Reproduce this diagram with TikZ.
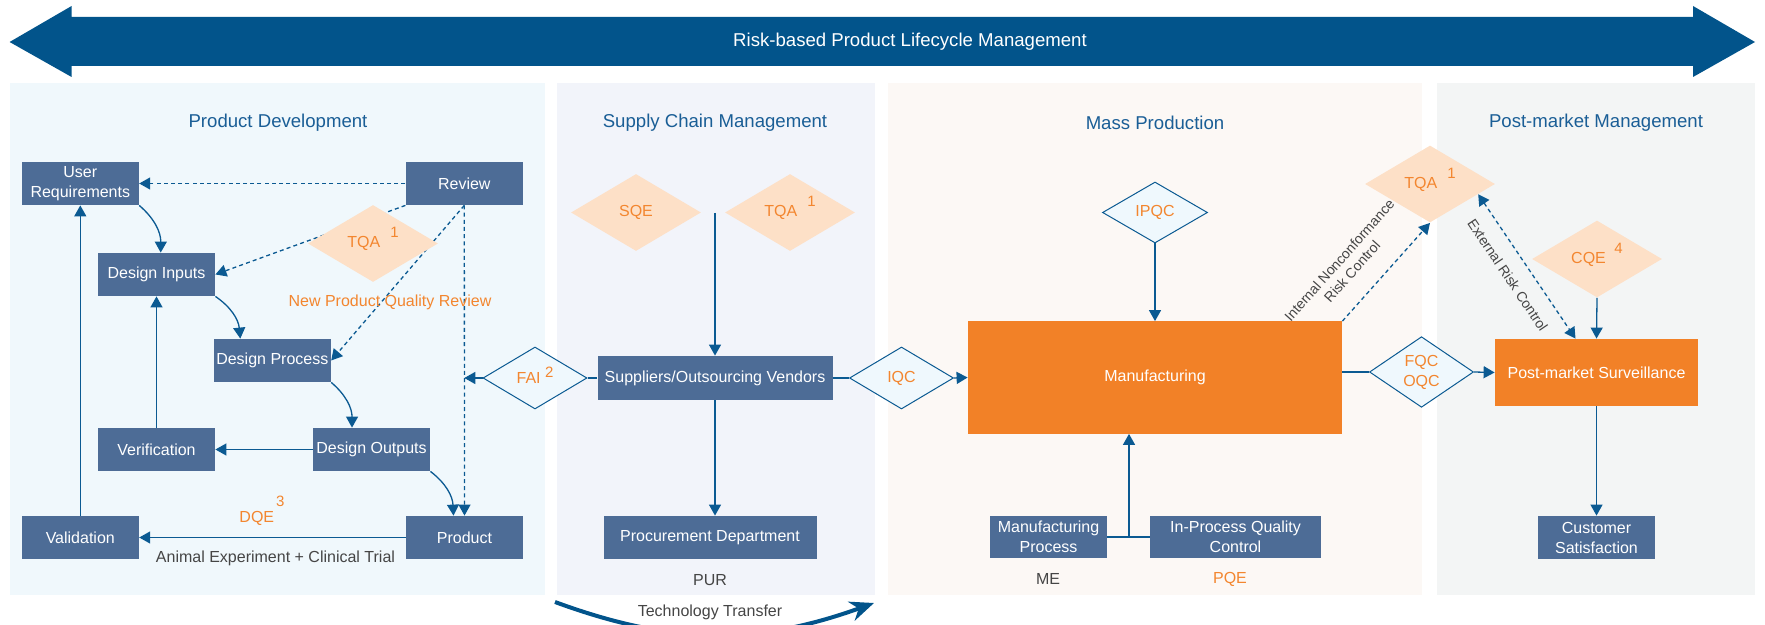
\documentclass[tikz,border=0pt]{standalone}
\usepackage{fontspec}
\setmainfont{Liberation Sans}
\usetikzlibrary{shapes.geometric,arrows.meta}

\definecolor{bandblue}{HTML}{02548B}
\definecolor{lineblue}{HTML}{0B5A92}
\definecolor{boxblue}{HTML}{4D6C96}
\definecolor{mfgorange}{HTML}{F28127}
\definecolor{peach}{HTML}{FDE0C7}
\definecolor{gatefill}{HTML}{EFF8FD}
\definecolor{tagorange}{HTML}{F3862F}
\definecolor{headblue}{HTML}{1A5E96}
\definecolor{notegray}{HTML}{454545}
\definecolor{pdbg}{HTML}{F0F8FC}
\definecolor{scbg}{HTML}{F2F4FA}
\definecolor{mpbg}{HTML}{FCF8F5}
\definecolor{pmbg}{HTML}{F3F5F5}

\tikzset{
  stage/.style={rectangle, fill=boxblue, text=white, align=center, inner sep=1pt,
    minimum width=58.5pt, minimum height=21.5pt, font=\fontsize{8}{10}\selectfont},
  hotstage/.style={stage, fill=mfgorange},
  role/.style={diamond, fill=peach, text=tagorange, inner sep=0pt,
    minimum width=65pt, minimum height=38.5pt, font=\fontsize{8}{10}\selectfont},
  gate/.style={diamond, draw=lineblue, line width=0.5pt, fill=gatefill, text=tagorange,
    align=center, inner sep=0pt, minimum width=52pt, minimum height=31pt,
    font=\fontsize{8}{10}\selectfont},
  heading/.style={text=headblue, font=\fontsize{9.3}{11}\selectfont},
  note/.style={text=notegray, font=\fontsize{8}{10}\selectfont},
  tag/.style={text=tagorange, font=\fontsize{8}{10}\selectfont},
  slant/.style={text=notegray, sloped, align=center, inner sep=1pt,
    font=\fontsize{7}{8.5}\selectfont},
  flow/.style={draw=lineblue, line width=0.65pt, -{Triangle[length=5.5pt,width=6pt]}},
  link/.style={draw=lineblue, line width=0.65pt},
  riskflow/.style={flow, dash pattern=on 2pt off 1.6pt},
  riskboth/.style={riskflow, {Triangle[length=5.5pt,width=6pt]}-{Triangle[length=5.5pt,width=6pt]}},
}
% index number beside a role name
\newcommand{\tagnum}[3]{\hspace{#1}\smash{\raisebox{#2}{\fontsize{7.5}{8}\selectfont #3}}}

\begin{document}
\begin{tikzpicture}[x=0.5pt,y=-0.5pt]
\useasboundingbox (0,0) rectangle (1765,625);

% lifecycle band
\fill[bandblue] (9.6,42) -- (71.6,6) -- (71.6,17) -- (1693,17) -- (1693,6) -- (1755,42)
  -- (1693,77) -- (1693,66) -- (71.6,66) -- (71.6,77) -- cycle;
\node[text=white, font=\fontsize{9.3}{11}\selectfont] (band) at (910,42) {Risk-based Product Lifecycle Management};

% panels
\fill[pdbg] (9.6,83) rectangle (544.6,595);
\fill[scbg] (557,83) rectangle (875,595);
\fill[mpbg] (887.5,83) rectangle (1422,595);
\fill[pmbg] (1437,83) rectangle (1755,595);
\node[heading] (pdhead) at (278,123) {Product Development};
\node[heading] (schead) at (715,123) {Supply Chain Management};
\node[heading] (mphead) at (1155,123) {Mass Production};
\node[heading] (pmhead) at (1596,123) {Post-market Management};

% product development
\node[stage] (ureq) at (80.3,183.5) {User\\Requirements};
\node[stage] (review) at (464.3,183.5) {Review};
\node[stage] (dinput) at (156.5,274.5) {Design Inputs};
\node[stage] (dproc) at (272.3,360.5) {Design Process};
\node[stage] (verif) at (156.5,449.5) {Verification};
\node[stage] (doutput) at (371.5,449.5) {Design Outputs};
\node[stage] (valid) at (80.3,537.5) {Validation};
\node[stage] (product) at (464.5,537.5) {Product};

\draw[riskflow] (review.west) -- (ureq.east);
\draw[riskflow] (review.south west) -- (dinput.east);
\draw[riskflow] (review.south) -- (dproc.east);
\draw[riskflow] (review.south) -- (product.north);
\node[role] (tqapd) at (373,243.5) {TQA\tagnum{5pt}{5pt}{1}};
\node[tag] (npqr) at (390,302) {New Product Quality Review};

\draw[flow] (ureq.south east) to[bend left=25] ([xshift=2.1pt]dinput.north);
\draw[flow] (dinput.south east) to[bend left=25] ([xshift=-16pt]dproc.north);
\draw[flow] (dproc.south east) to[bend left=25] ([xshift=-9.75pt]doutput.north);
\draw[flow] (doutput.south east) to[bend left=25] ([xshift=-5.5pt]product.north);
\draw[flow] (doutput.west) -- (verif.east);
\draw[flow] (verif.north) -- (dinput.south);
\draw[flow] (valid.north) -- (ureq.south);
\draw[flow] (product.west) -- (valid.east);
\node[tag] (dqe) at (262,518) {DQE\tagnum{1pt}{8pt}{3}};
\node[note] (trial) at (275.5,558) {Animal Experiment + Clinical Trial};

% supply chain
\node[role] (sqe) at (636,212.5) {SQE};
\node[role] (tqasc) at (790,212.5) {TQA\tagnum{5pt}{5pt}{1}};
\coordinate (scfeed) at (715,213);
\node[stage, minimum width=117.5pt, minimum height=22pt] (vendors) at (715,378) {Suppliers/Outsourcing Vendors};
\node[stage, minimum width=106.5pt] (purdept) at (710,537.5) {Procurement Department};
\node[note] (pur) at (710,580) {PUR};
\node[gate] (fai) at (535,378) {FAI\tagnum{2.2pt}{3pt}{2}};
\node[gate] (iqc) at (901.5,378) {IQC};
\draw[flow] (scfeed) -- (vendors.north);
\draw[flow] (vendors.south) -- (vendors.south |- purdept.north);
\draw[link] (vendors.west) -- (fai.east);
\coordinate (faihit) at (review.south |- fai.west);
\draw[flow] (fai.west) -- (faihit);
\draw[link] (vendors.east) -- (iqc.west);

\coordinate (ttstart) at (555,602);
\coordinate (ttend) at (874,603);
\draw[bandblue, line width=2pt, -{Stealth[length=12pt,width=10pt]}] (ttstart) to[bend right=20] (ttend);
\node[note] (ttlabel) at (710,612) {Technology Transfer};

% mass production
\node[gate, minimum width=52.5pt, minimum height=30.5pt] (ipqc) at (1155,212.5) {IPQC};
\node[hotstage, minimum width=187pt, minimum height=56pt] (mfg) at (1155,377.5) {Manufacturing};
\node[stage, minimum height=21pt] (mproc) at (1048.5,537) {Manufacturing\\Process};
\node[stage, minimum width=85.5pt, minimum height=21pt] (ipqcbox) at (1235.5,537) {In-Process Quality\\Control};
\node[note] (me) at (1048,579) {ME};
\node[tag] (pqe) at (1230,579) {PQE};
\coordinate (mjoin) at (1129,537);
\draw[link] (mproc.east) -- (ipqcbox.west);
\draw[flow] (mjoin) -- (mjoin |- mfg.south);
\draw[flow] (ipqc.south) -- (mfg.north);
\draw[flow] (iqc.east) -- (mfg.west);
\node[gate] (fqc) at (1421.5,372) {FQC\\OQC};
\draw[link] (mfg.east |- fqc.west) -- (fqc.west);

% post-market
\node[role] (tqapm) at (1430,184) {TQA\tagnum{5pt}{5pt}{1}};
\node[role] (cqe) at (1597,259) {CQE\tagnum{4.3pt}{5pt}{4}};
\node[hotstage, minimum width=101.5pt, minimum height=33.5pt] (pms) at (1596.5,372.5) {Post-market Surveillance};
\node[stage] (cust) at (1596.5,537.5) {Customer\\Satisfaction};
\draw[flow] (fqc.east) -- (pms.west);
\draw[flow] (cqe.south) -- (pms.north);
\draw[flow] (pms.south) -- (cust.north);
\draw[riskflow] (mfg.north east) -- node[slant, pos=0.33, above=9pt] (inrisk) {Internal Nonconformance\\Risk Control} (tqapm.south);
\draw[riskboth] (tqapm.-12) -- node[slant, pos=0.48, below=6.5pt] (exrisk) {External Risk Control} ([xshift=-10.5pt]pms.north);
\end{tikzpicture}
\end{document}
